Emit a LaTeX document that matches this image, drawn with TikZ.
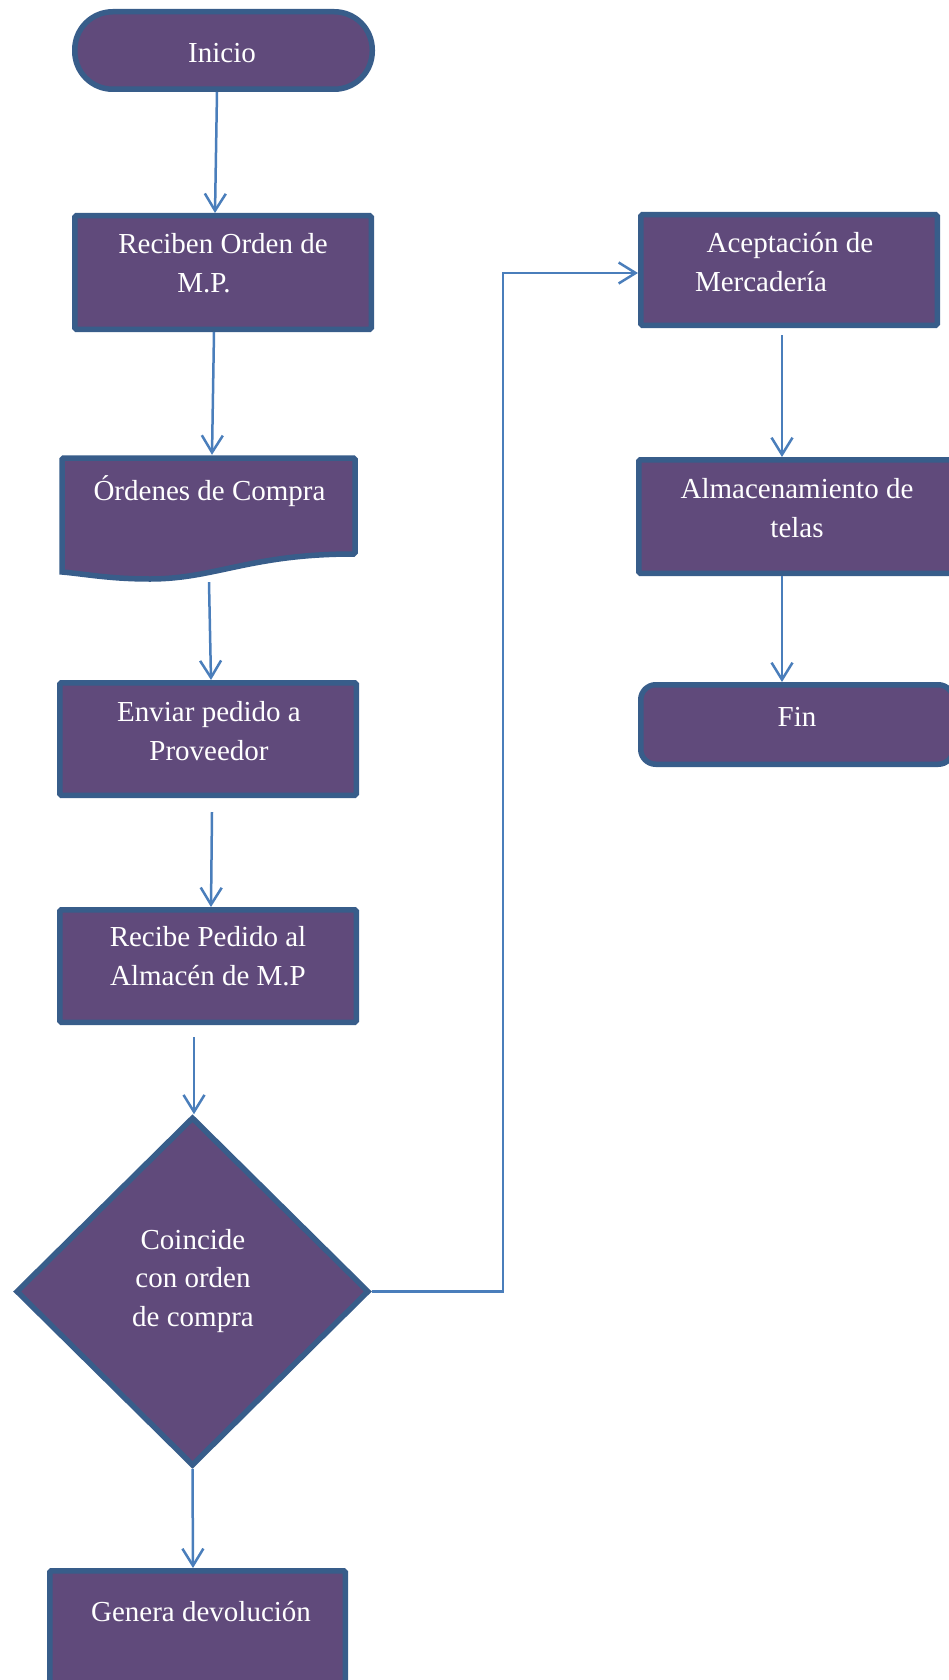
\documentclass[tikz,border=0pt]{standalone}
\usepackage{fontspec}
\setmainfont{Liberation Serif}
\usetikzlibrary{arrows.meta,shapes.geometric}
\definecolor{boxfill}{HTML}{604A7B}
\definecolor{boxline}{HTML}{385D8A}
\definecolor{conncol}{HTML}{4A7EBB}
\begin{document}
\begin{tikzpicture}[x=1pt,y=-1pt,
  box/.style={draw=boxline, fill=boxfill, line width=5.5pt, rounded corners=1.5pt, inner sep=0pt},
  txt/.style={text=white, font=\fontsize{29}{38.5}\selectfont, align=center, anchor=base, inner sep=0pt},
  conn/.style={draw=conncol, line width=2.5pt, -{Straight Barb[length=17pt,width=21pt]}}]
\useasboundingbox (0,0) rectangle (949,1680);

% shapes
\node[box, rounded corners=38pt, minimum width=297.5pt, minimum height=77.5pt] (inicio) at (223.5,50.5) {};
\node[box, minimum width=296.5pt, minimum height=113.5pt] (reciben) at (223,272.5) {};
\node[inner sep=0pt, minimum width=299pt, minimum height=127pt] (ordenes) at (208.5,518.5) {};
\draw[draw=boxline, fill=boxfill, line width=5.5pt, rounded corners=1.5pt]
  (62,458) -- (355,458) -- (355,554)
  [sharp corners] .. controls (250,554) and (215,579) .. (150,579)
  .. controls (110,579) and (85,574) .. (62,572) [rounded corners=1.5pt] -- cycle;
\node[box, minimum width=296.5pt, minimum height=112.5pt] (enviar) at (208,739) {};
\node[box, minimum width=296.5pt, minimum height=112.5pt] (recibe) at (208,966) {};
\node[box, diamond, rounded corners=0pt, minimum width=353pt, minimum height=349pt] (dec) at (192.5,1291.5) {};
\node[box, minimum width=295.5pt, minimum height=116.5pt] (genera) at (197.5,1629) {};
\node[box, minimum width=296.5pt, minimum height=110.5pt] (aceptacion) at (789,270) {};
\node[box, minimum width=316.5pt, minimum height=113.5pt] (almacen) at (797,516.5) {};
\node[box, rounded corners=15pt, minimum width=312.5pt, minimum height=79.5pt] (fin) at (797,724.5) {};

% texts
\node[txt] (t-inicio) at (222,63) {Inicio};
\node[txt] (t-reciben) at (223,292) {Reciben Orden de\\M.P.\hspace*{38pt}};
\node[txt] (t-ordenes) at (209.5,500) {Órdenes de Compra};
\node[txt] (t-enviar) at (209,760) {Enviar pedido a\\Proveedor};
\node[txt] (t-recibe) at (208,985) {Recibe Pedido al\\Almacén de M.P};
\node[txt] (t-dec) at (193,1326) {Coincide\\con orden\\de compra};
\node[txt] (t-genera) at (201,1621) {Genera devolución};
\node[txt] (t-aceptacion) at (790,291) {Aceptación de\\Mercadería\hspace*{58pt}};
\node[txt] (t-almacen) at (797,537) {Almacenamiento de\\telas};
\node[txt] (t-fin) at (797,726) {Fin};

% connectors
\draw[conn] ([xshift=-6.5pt]inicio.south) -- ([xshift=-8pt]reciben.north);
\draw[conn] ([xshift=-9pt]reciben.south) -- ([xshift=3.5pt]ordenes.north);
\draw[conn] ([xshift=0.5pt]ordenes.south) -- ([xshift=3pt]enviar.north);
\draw[conn] ([shift={(4pt,-14pt)}]enviar.south) -- ([xshift=3pt]recibe.north);
\draw[conn] ([shift={(-14pt,-12pt)}]recibe.south) -- ([xshift=1.5pt]dec.north);
\draw[conn] (dec.south) -- ([xshift=-4.5pt]genera.north);
\draw[conn] (dec.east) -- ++(131,0) |- ([yshift=-3pt]aceptacion.west);
\draw[conn] ([shift={(-7pt,-7pt)}]aceptacion.south) -- ([xshift=-15pt]almacen.north);
\draw[conn] ([xshift=-15pt]almacen.south) -- ([xshift=-15pt]fin.north);
\end{tikzpicture}
\end{document}
